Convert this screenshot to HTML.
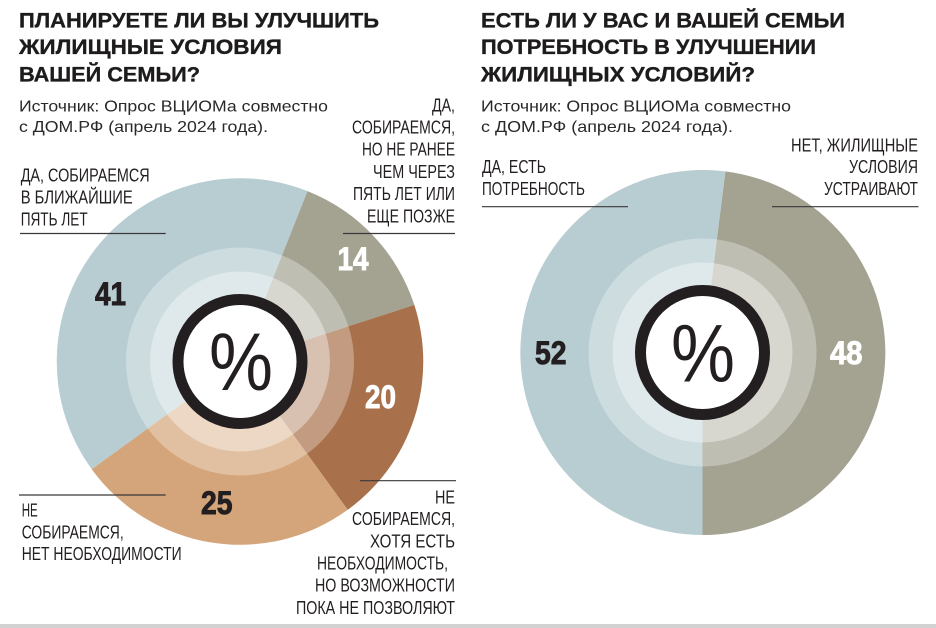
<!DOCTYPE html>
<html>
<head>
<meta charset="utf-8">
<style>
html,body{margin:0;padding:0;background:#fff;}
body{width:936px;height:628px;overflow:hidden;}
svg{display:block;}
.t{font-family:"Liberation Sans","Noto Sans CJK SC",sans-serif;font-weight:bold;font-size:21px;fill:#1d1b1b;stroke:#1d1b1b;stroke-width:0.35px;}
.s{font-family:"Liberation Sans","Noto Sans CJK SC",sans-serif;font-size:16px;fill:#2a2828;}
.l{font-family:"Liberation Sans","Noto Sans CJK SC",sans-serif;font-size:18.5px;fill:#231f20;}
.n{font-family:"Liberation Sans",sans-serif;font-weight:bold;font-size:32px;stroke-width:0.9px;}
.p{font-family:"Liberation Sans",sans-serif;font-size:82px;fill:#231f20;}
</style>
</head>
<body>
<svg width="936" height="628" viewBox="0 0 936 628" xmlns="http://www.w3.org/2000/svg">
<rect width="936" height="628" fill="#fff"/>

<!-- Left titles -->
<text class="t" x="19" y="27.5" textLength="360" lengthAdjust="spacingAndGlyphs">ПЛАНИРУЕТЕ ЛИ ВЫ УЛУЧШИТЬ</text>
<text class="t" x="19" y="54" textLength="263" lengthAdjust="spacingAndGlyphs">ЖИЛИЩНЫЕ УСЛОВИЯ</text>
<text class="t" x="19" y="81.5" textLength="181" lengthAdjust="spacingAndGlyphs">ВАШЕЙ СЕМЬИ?</text>
<text class="s" x="19" y="111.7" textLength="309" lengthAdjust="spacingAndGlyphs">Источник: Опрос ВЦИОМа совместно</text>
<text class="s" x="19" y="132" textLength="249" lengthAdjust="spacingAndGlyphs">с ДОМ.РФ (апрель 2024 года).</text>

<!-- Right titles -->
<text class="t" x="481" y="27.5" textLength="364" lengthAdjust="spacingAndGlyphs">ЕСТЬ ЛИ У ВАС И ВАШЕЙ СЕМЬИ</text>
<text class="t" x="481" y="54" textLength="335" lengthAdjust="spacingAndGlyphs">ПОТРЕБНОСТЬ В УЛУЧШЕНИИ</text>
<text class="t" x="481" y="81.5" textLength="274" lengthAdjust="spacingAndGlyphs">ЖИЛИЩНЫХ УСЛОВИЙ?</text>
<text class="s" x="481" y="111.7" textLength="310" lengthAdjust="spacingAndGlyphs">Источник: Опрос ВЦИОМа совместно</text>
<text class="s" x="481" y="132" textLength="252" lengthAdjust="spacingAndGlyphs">с ДОМ.РФ (апрель 2024 года).</text>

<!-- Left pie -->
<path d="M240 361.5 L91.7 469.2 A183.3 183.3 0 0 1 307.5 191.1 Z" fill="#b7cdd1"/>
<path d="M240 361.5 L307.5 191.1 A183.3 183.3 0 0 1 414.3 304.9 Z" fill="#a4a392"/>
<path d="M240 361.5 L414.3 304.9 A183.3 183.3 0 0 1 347.7 509.8 Z" fill="#a8704b"/>
<path d="M240 361.5 L347.7 509.8 A183.3 183.3 0 0 1 91.7 469.2 Z" fill="#d4a57a"/>
<circle cx="240" cy="361.5" r="114" fill="#fff" fill-opacity="0.3"/>
<circle cx="240" cy="361.5" r="90" fill="#fff" fill-opacity="0.38"/>
<circle cx="240" cy="361.5" r="62" fill="#fff" stroke="#231f20" stroke-width="11"/>
<text class="p" x="209" y="390" textLength="64" lengthAdjust="spacingAndGlyphs">%</text>

<text class="n" x="95" y="305" fill="#231f20" stroke="#231f20" textLength="31" lengthAdjust="spacingAndGlyphs">41</text>
<text class="n" x="337.5" y="270" fill="#fff" stroke="#fff" textLength="31" lengthAdjust="spacingAndGlyphs">14</text>
<text class="n" x="365" y="408" fill="#fff" stroke="#fff" textLength="31" lengthAdjust="spacingAndGlyphs">20</text>
<text class="n" x="201" y="514" fill="#231f20" stroke="#231f20" textLength="31.5" lengthAdjust="spacingAndGlyphs">25</text>

<!-- Left labels -->
<text class="l" x="20.7" y="181.5" textLength="129" lengthAdjust="spacingAndGlyphs">ДА, СОБИРАЕМСЯ</text>
<text class="l" x="20.7" y="203.5" textLength="112" lengthAdjust="spacingAndGlyphs">В БЛИЖАЙШИЕ</text>
<text class="l" x="20.7" y="225.5" textLength="67" lengthAdjust="spacingAndGlyphs">ПЯТЬ ЛЕТ</text>
<line x1="20" y1="233.5" x2="165.7" y2="233.5" stroke="#3a3838" stroke-width="1.2"/>

<text class="l" x="432" y="111.5" textLength="23" lengthAdjust="spacingAndGlyphs">ДА,</text>
<text class="l" x="352" y="133.3" textLength="103" lengthAdjust="spacingAndGlyphs">СОБИРАЕМСЯ,</text>
<text class="l" x="362" y="155.5" textLength="93" lengthAdjust="spacingAndGlyphs">НО НЕ РАНЕЕ</text>
<text class="l" x="373" y="177.8" textLength="82" lengthAdjust="spacingAndGlyphs">ЧЕМ ЧЕРЕЗ</text>
<text class="l" x="353" y="200" textLength="102" lengthAdjust="spacingAndGlyphs">ПЯТЬ ЛЕТ ИЛИ</text>
<text class="l" x="367" y="222.3" textLength="88" lengthAdjust="spacingAndGlyphs">ЕЩЕ ПОЗЖЕ</text>
<line x1="343" y1="233.5" x2="455" y2="233.5" stroke="#3a3838" stroke-width="1.2"/>

<line x1="19" y1="495" x2="165.7" y2="495" stroke="#3a3838" stroke-width="1.2"/>
<text class="l" x="21.7" y="516.7" textLength="16" lengthAdjust="spacingAndGlyphs">НЕ</text>
<text class="l" x="21.7" y="538.3" textLength="102" lengthAdjust="spacingAndGlyphs">СОБИРАЕМСЯ,</text>
<text class="l" x="21.7" y="560" textLength="160" lengthAdjust="spacingAndGlyphs">НЕТ НЕОБХОДИМОСТИ</text>

<line x1="360" y1="480.7" x2="456" y2="480.7" stroke="#3a3838" stroke-width="1.2"/>
<text class="l" x="435" y="503.3" textLength="20" lengthAdjust="spacingAndGlyphs">НЕ</text>
<text class="l" x="352" y="525" textLength="103" lengthAdjust="spacingAndGlyphs">СОБИРАЕМСЯ,</text>
<text class="l" x="370" y="547.5" textLength="85" lengthAdjust="spacingAndGlyphs">ХОТЯ ЕСТЬ</text>
<text class="l" x="317" y="569.7" textLength="131" lengthAdjust="spacingAndGlyphs">НЕОБХОДИМОСТЬ,</text>
<text class="l" x="315" y="591.7" textLength="140" lengthAdjust="spacingAndGlyphs">НО ВОЗМОЖНОСТИ</text>
<text class="l" x="296" y="614" textLength="159" lengthAdjust="spacingAndGlyphs">ПОКА НЕ ПОЗВОЛЯЮТ</text>

<!-- Right pie -->
<path d="M702.5 352.5 L725.4 171.4 A182.5 182.5 0 0 1 702.5 535 Z" fill="#a4a392"/>
<path d="M702.5 352.5 L702.5 535 A182.5 182.5 0 1 1 725.4 171.4 Z" fill="#b7cdd1"/>
<circle cx="702.5" cy="352.5" r="114" fill="#fff" fill-opacity="0.3"/>
<circle cx="702.5" cy="352.5" r="90" fill="#fff" fill-opacity="0.38"/>
<circle cx="702.5" cy="352.5" r="62" fill="#fff" stroke="#231f20" stroke-width="11"/>
<text class="p" x="671" y="381.5" textLength="64" lengthAdjust="spacingAndGlyphs">%</text>

<text class="n" x="535" y="364" fill="#231f20" stroke="#231f20" textLength="31.5" lengthAdjust="spacingAndGlyphs">52</text>
<text class="n" x="830" y="364" fill="#fff" stroke="#fff" textLength="32.5" lengthAdjust="spacingAndGlyphs">48</text>

<!-- Right labels -->
<text class="l" x="791" y="151.5" textLength="127" lengthAdjust="spacingAndGlyphs">НЕТ, ЖИЛИЩНЫЕ</text>
<text class="l" x="849" y="173" textLength="69" lengthAdjust="spacingAndGlyphs">УСЛОВИЯ</text>
<text class="l" x="824" y="195" textLength="94" lengthAdjust="spacingAndGlyphs">УСТРАИВАЮТ</text>
<line x1="772" y1="206.7" x2="918.5" y2="206.7" stroke="#3a3838" stroke-width="1.2"/>

<text class="l" x="482" y="173" textLength="64" lengthAdjust="spacingAndGlyphs">ДА, ЕСТЬ</text>
<text class="l" x="482" y="195" textLength="103" lengthAdjust="spacingAndGlyphs">ПОТРЕБНОСТЬ</text>
<line x1="482" y1="206.7" x2="628" y2="206.7" stroke="#3a3838" stroke-width="1.2"/>

<!-- bottom bar -->
<rect x="0" y="624" width="936" height="4" fill="#d2d2d2"/>
</svg>
</body>
</html>
